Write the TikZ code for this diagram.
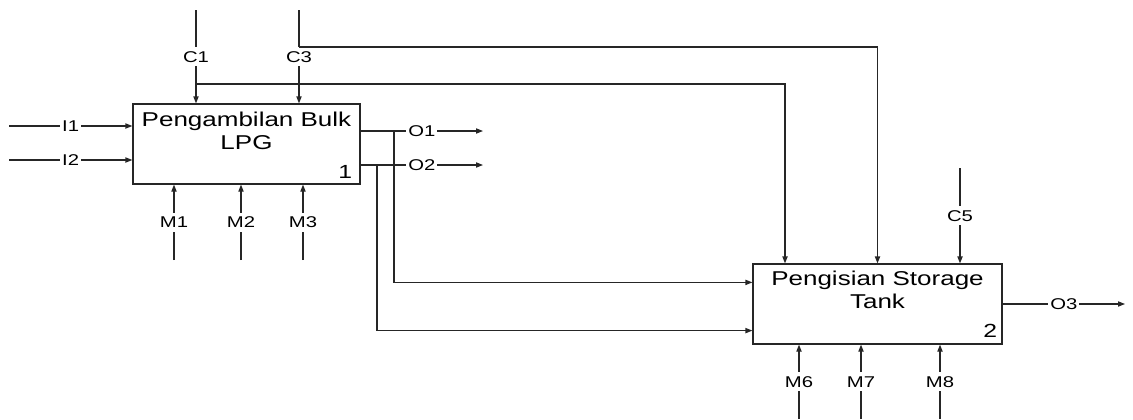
\documentclass[tikz,border=0pt]{standalone}
\usepackage{fontspec}
\setmainfont{Liberation Sans}[FakeStretch=1.3]
\usetikzlibrary{arrows.meta}

\begin{document}
\begin{tikzpicture}[x=0.5pt, y=-0.5pt,
  fungsi/.style={draw=black!85, line width=0.6pt, minimum height=40pt, inner sep=0pt},
  judul/.style={align=center, inner sep=0pt, font=\fontsize{10}{11.5}\selectfont},
  nomor/.style={inner sep=0pt, font=\fontsize{9.5}{9.5}\selectfont},
  lbl/.style={fill=white, inner xsep=1pt, inner ysep=2pt, font=\fontsize{7.8}{7.8}\selectfont},
  panah/.style={-{Triangle[length=3.5pt,width=2.6pt]}, draw=black!85, line width=0.6pt}]
  \useasboundingbox (0,0) rectangle (1133,419);

  % activity boxes
  \node[fungsi, minimum width=113.5pt] at (246.5,144) (f1) {};
  \node[fungsi, minimum width=124.5pt] at (877.5,304) (f2) {};
  \node[judul, anchor=north] at ([yshift=-4.3pt]f1.north) (t1) {Pengambilan Bulk\\LPG};
  \node[judul, anchor=north] at ([yshift=-3.8pt]f2.north) (t2) {Pengisian Storage\\Tank};
  \node[nomor, anchor=south east] at ([xshift=-4pt,yshift=3pt]f1.south east) (n1) {1};
  \node[nomor, anchor=south east] at ([xshift=-2.5pt,yshift=3.5pt]f2.south east) (n2) {2};

  % free ends
  \coordinate (i1) at (9,126);
  \coordinate (i2) at (9,160);
  \coordinate (c1) at (196,10);
  \coordinate (c3) at (299,10);
  \coordinate (c5) at (960,168);
  \coordinate (m1) at (174,260);
  \coordinate (m2) at (241,260);
  \coordinate (m3) at (303,260);
  \coordinate (m6) at (799,419);
  \coordinate (m7) at (861,419);
  \coordinate (m8) at (940,419);
  \coordinate (o1) at (483,131);
  \coordinate (o2) at (483,165);
  \coordinate (o3) at (1125,304);
  % branch points
  \coordinate (k1) at (196,84);
  \coordinate (k3) at (299,47);
  \coordinate (k4) at (394,131);
  \coordinate (k5) at (377,165);

  % Lines
  \draw[panah] (i1) -- node[lbl] {I1} (i1 -| f1.west);
  \draw[panah] (i2) -- node[lbl] {I2} (i2 -| f1.west);
  \draw[panah] (c1) -- node[lbl] {C1} (c1 |- f1.north);
  \draw[panah] (c3) -- node[lbl] {C3} (c3 |- f1.north);
  \draw[panah] (m1) -- node[lbl] {M1} (m1 |- f1.south);
  \draw[panah] (m2) -- node[lbl] {M2} (m2 |- f1.south);
  \draw[panah] (m3) -- node[lbl] {M3} (m3 |- f1.south);
  \draw[panah] (f1.east |- o1) -- node[lbl] {O1} (o1);
  \draw[panah] (f1.east |- o2) -- node[lbl] {O2} (o2);
  \draw[panah] (k1) -| ([xshift=-46.25pt]f2.north);
  \draw[panah] (k3) -| (f2.north);
  \draw[panah] (k4) |- ([yshift=-9.5pt]f2.north west);
  \draw[panah] (k5) |- ([yshift=7pt]f2.south west);
  \draw[panah] (c5) -- node[lbl] {C5} (c5 |- f2.north);
  \draw[panah] (m6) -- node[lbl] {M6} (m6 |- f2.south);
  \draw[panah] (m7) -- node[lbl] {M7} (m7 |- f2.south);
  \draw[panah] (m8) -- node[lbl] {M8} (m8 |- f2.south);
  \draw[panah] (f2.east |- o3) -- node[lbl] {O3} (o3);
\end{tikzpicture}
\end{document}
